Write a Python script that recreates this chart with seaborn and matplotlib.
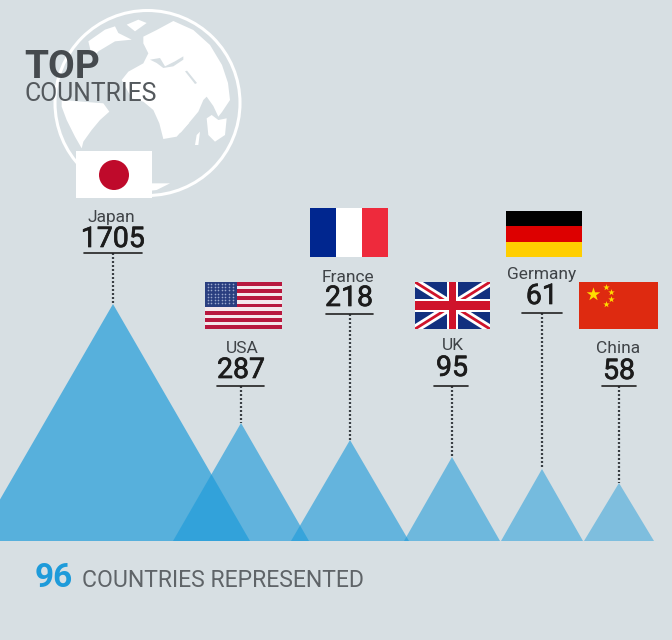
from matplotlib.patches import Circle, Polygon, Rectangle
import matplotlib
matplotlib.use('Agg')
import matplotlib.patheffects as pe
import matplotlib.pyplot as plt
import seaborn as sns
import pandas as pd
import numpy as np

countries = ['Japan', 'USA', 'France', 'UK', 'Germany', 'China']
counts = [1705, 287, 218, 95, 61, 58]
peak_heights = [237, 118, 101, 84, 72, 58]
represented = 96

BG = '#d7dfe3'
BLUE = '#1e9bda'
BASE_Y = 541

# layout in picture pixels: centre x, half width, alpha
peak_x = [113, 241, 350, 452, 542, 619]
half_w = [137, 68, 59, 48, 41, 35]
alphas = [0.69, 0.64, 0.62, 0.57, 0.53, 0.48]
flag_box = {'Japan': (76, 151, 152, 198), 'USA': (205, 282, 282, 329), 'France': (310, 208, 388, 257),
            'UK': (415, 282, 490, 329), 'Germany': (506, 211, 582, 257), 'China': (579, 282, 658, 329)}
name_pos = [(111, 222), (242, 353), (348, 282), (453, 350), (542, 279), (618, 353)]
value_base = [247, 378, 306, 376, 304, 379]
rule_pos = [(84, 142, 253), (217, 264, 386), (326, 373, 314), (434, 468, 386), (522, 562, 313), (602, 636, 386)]

sns.set_theme(style='white')
plt.rcParams['font.family'] = ['Roboto', 'DejaVu Sans']

fig, ax = plt.subplots(figsize=(6.72, 6.4), dpi=100)
fig.subplots_adjust(0, 0, 1, 1)
fig.patch.set_facecolor(BG)
ax.set_facecolor(BG)
ax.set_xlim(0, 672)
ax.set_ylim(640, 0)
ax.axis('off')


def zoomed(points, ox=0, oy=0):
    # outlines were traced on 3x crops
    return [(ox + x / 3, oy + y / 3) for x, y in points]


def land(points, color='white', z=1):
    ax.add_patch(Polygon(points, closed=True, fc=color, ec='none', zorder=z))


# globe
ax.add_patch(Circle((147.5, 103), 92.5, fc='none', ec='white', lw=2.2, zorder=1))
land(zoomed([(430, 110), (470, 90), (520, 63), (580, 90), (630, 135), (666, 195), (684, 249), (690, 300),
             (666, 336), (655, 350), (640, 318), (620, 290), (610, 300), (595, 335), (570, 365), (530, 410),
             (490, 417), (478, 370), (460, 330), (430, 305), (395, 295), (365, 240), (385, 215), (430, 190),
             (445, 160), (430, 130)]))
land(zoomed([(0, 155), (30, 150), (45, 175), (75, 160), (100, 145), (100, 155), (70, 175), (40, 180), (20, 165)],
            150, 8), color=BG, z=1.1)
land(zoomed([(105, 190), (135, 228), (141, 225), (111, 188)], 150, 8), color=BG, z=1.1)
land(zoomed([(170, 115), (185, 105), (205, 120), (230, 115), (225, 165), (195, 185), (175, 165)], 150, 80))
land(zoomed([(85, 155), (112, 125), (118, 128), (92, 158)], 150, 80))
land(zoomed([(140, 165), (150, 155), (145, 195), (135, 195)], 150, 80))
land(zoomed([(35, 0), (160, 10), (178, 35), (150, 60), (125, 90), (100, 125), (95, 145), (75, 110), (50, 60),
             (35, 20)], 50, 100))
land(zoomed([(100, 100), (150, 65), (180, 55), (190, 75), (230, 95), (180, 100), (130, 130), (112, 150)], 55, 8))
land(zoomed([(215, 50), (250, 35), (275, 45), (240, 70)], 55, 8))
land(zoomed([(300, 590), (350, 550), (510, 550), (470, 570)]))

# peaks
for i, c in enumerate(countries):
    top = BASE_Y - peak_heights[i]
    ax.fill([peak_x[i] - half_w[i], peak_x[i], peak_x[i] + half_w[i]], [BASE_Y, top, BASE_Y],
            color=BLUE, alpha=alphas[i], lw=0, zorder=2)

# dotted leaders from each rule down to its peak
leaders = pd.DataFrame({
    'country': [c for c in countries for _ in range(2)],
    'x': [x for x in peak_x for _ in range(2)],
    'y': [v for r, h in zip(rule_pos, peak_heights) for v in (r[2], BASE_Y - h)],
})
sns.lineplot(data=leaders, x='x', y='y', units='country', estimator=None, sort=False, color='#3a3f44',
             lw=1.6, ls=(0, (0.9, 0.9)), legend=False, ax=ax, zorder=3)
ax.set_xlim(0, 672)
ax.set_ylim(640, 0)

for i, c in enumerate(countries):
    x0, x1, y = rule_pos[i]
    ax.plot([x0, x1], [y, y], color='#222222', lw=1.2, zorder=4)
    ax.text(name_pos[i][0], name_pos[i][1], c, ha='center', va='baseline', fontsize=12.5, color='#3f4347', zorder=5)
    t = ax.text(peak_x[i] if c != 'France' else 349, value_base[i], str(counts[i]), ha='center', va='baseline',
                fontsize=20.5, color='#1c1c1c', zorder=5)
    t.set_path_effects([pe.withStroke(linewidth=0.5, foreground='#1c1c1c')])


def rect(x0, y0, x1, y1, color, z=4):
    r = Rectangle((x0, y0), x1 - x0, y1 - y0, fc=color, ec='none', zorder=z)
    ax.add_patch(r)
    return r


def flag_japan(x0, y0, x1, y1):
    rect(x0, y0, x1, y1, 'white')
    ax.add_patch(Circle((114, 175), 15, fc='#bf0a2b', ec='none', zorder=4.1))


def flag_usa(x0, y0, x1, y1):
    rect(x0, y0, x1, y1, '#f4e8ec')
    h = (y1 - y0) / 13
    for k in range(0, 13, 2):
        rect(x0, y0 + k * h, x1, y0 + (k + 1) * h, '#b8183f', 4.1)
    rect(x0, y0, x0 + 32, y0 + 7 * h, '#2a3f80', 4.2)
    xs, ys = np.meshgrid(np.arange(x0 + 2.5, x0 + 31, 3.6), np.arange(y0 + 2, y0 + 7 * h - 1, 3.2))
    ax.scatter(xs.ravel(), ys.ravel(), s=1.4, color='#9aa8cc', lw=0, zorder=4.3)


def flag_france(x0, y0, x1, y1):
    w = (x1 - x0) / 3
    rect(x0, y0, x0 + w, y1, '#00268f')
    rect(x0 + w, y0, x0 + 2 * w, y1, 'white')
    rect(x0 + 2 * w, y0, x1, y1, '#ee2a3c')


def flag_uk(x0, y0, x1, y1):
    clip = rect(x0, y0, x1, y1, '#12307f')
    cx, cy = (x0 + x1) / 2, (y0 + y1) / 2
    for a, b in [((x0, y0), (x1, y1)), ((x0, y1), (x1, y0))]:
        ln, = ax.plot([a[0], b[0]], [a[1], b[1]], color='white', lw=6, solid_capstyle='butt', zorder=4.1)
        ln.set_clip_path(clip)
        ln, = ax.plot([a[0], b[0]], [a[1], b[1]], color='#cf142b', lw=2, solid_capstyle='butt', zorder=4.2)
        ln.set_clip_path(clip)
    rect(cx - 5.5, y0, cx + 5.5, y1, 'white', 4.3)
    rect(x0, cy - 6.5, x1, cy + 6.5, 'white', 4.3)
    rect(cx - 3.5, y0, cx + 3.5, y1, '#cf142b', 4.4)
    rect(x0, cy - 4.5, x1, cy + 4.5, '#cf142b', 4.4)


def flag_germany(x0, y0, x1, y1):
    h = (y1 - y0) / 3
    rect(x0, y0, x1, y0 + h, '#000000')
    rect(x0, y0 + h, x1, y0 + 2 * h, '#dd0000')
    rect(x0, y0 + 2 * h, x1, y1, '#ffce00')


def flag_china(x0, y0, x1, y1):
    rect(x0, y0, x1, y1, '#de2a10')
    ax.scatter([x0 + 14], [y0 + 12], s=105, marker='*', color='#ffde00', lw=0, zorder=4.2)
    ax.scatter([x0 + 27, x0 + 32, x0 + 32, x0 + 27], [y0 + 5, y0 + 10, y0 + 17, y0 + 22], s=24, marker='*',
               color='#ffde00', lw=0, zorder=4.2)


drawers = {'Japan': flag_japan, 'USA': flag_usa, 'France': flag_france, 'UK': flag_uk, 'Germany': flag_germany,
           'China': flag_china}
for c in countries:
    drawers[c](*flag_box[c])

# titles
ax.text(24, 78, 'TOP', fontsize=28, fontweight='bold', color='#454a4e', va='baseline', zorder=6)
ax.text(24, 101, 'COUNTRIES', fontsize=17.8, color='#54595d', va='baseline', zorder=6)
ax.text(35, 587, str(represented), fontsize=24, fontweight='bold', color=BLUE, va='baseline', zorder=6)
ax.text(82, 587, 'COUNTRIES REPRESENTED', fontsize=16.6, color='#5f6468', va='baseline', zorder=6)

fig.savefig('out.png', dpi=100, facecolor=BG)
